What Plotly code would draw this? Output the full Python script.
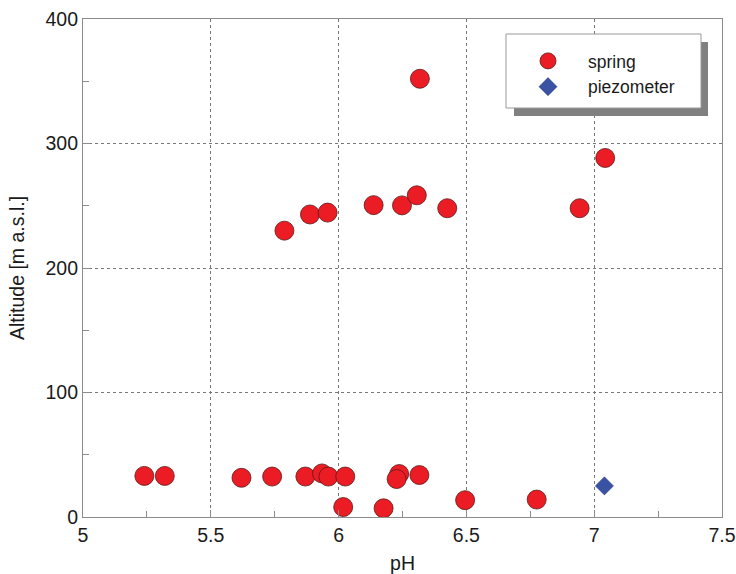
import plotly.graph_objects as go

# spring data (pH, altitude m a.s.l.)
spring_ph = [5.24, 5.32, 5.62, 5.74, 5.87, 5.935, 5.96, 6.026, 6.018, 6.176,
             6.237, 6.227, 6.316, 6.495, 6.775,
             5.788, 5.888, 5.957, 6.137, 6.248, 6.306, 6.318, 6.425, 6.943, 7.043]
spring_alt = [33, 33, 31.5, 32.5, 32.5, 35, 32.5, 32.5, 8, 7,
              34.5, 30.5, 33.7, 13.5, 14,
              230, 243, 244.5, 250.5, 250.3, 258.4, 352, 248, 248, 288.4]

# piezometer data
piezo_ph = [7.04]
piezo_alt = [25]

x_ticks = [5, 5.5, 6, 6.5, 7, 7.5]
y_ticks = [0, 100, 200, 300, 400]

FONT = "Liberation Sans, Arial, sans-serif"
FS = 19.5

fig = go.Figure()
fig.add_trace(go.Scatter(
    x=spring_ph, y=spring_alt, mode="markers", name="spring",
    marker=dict(symbol="circle", size=19, color="#ec1c24",
                line=dict(color="#5a1a1a", width=0.8)),
))
fig.add_trace(go.Scatter(
    x=piezo_ph, y=piezo_alt, mode="markers", name="piezometer",
    marker=dict(symbol="diamond", size=14, color="#3a52a3",
                line=dict(color="#2a3a80", width=0.5)),
))

# legend box with shadow
fig.add_shape(type="rect", xref="paper", yref="paper",
              x0=(514 - 83) / 639, x1=(708 - 83) / 639,
              y0=(517 - 116) / 498, y1=(517 - 42) / 498,
              fillcolor="#808080", line=dict(width=0), layer="above")
fig.add_shape(type="rect", xref="paper", yref="paper",
              x0=(506 - 83) / 639, x1=(701 - 83) / 639,
              y0=(517 - 108) / 498, y1=(517 - 34) / 498,
              fillcolor="white", line=dict(color="#999999", width=1), layer="above")

axis_common = dict(
    showline=True, linecolor="#8c8c8c", linewidth=1.2, mirror=True,
    showgrid=True, gridcolor="#777777", griddash="dot", gridwidth=1,
    zeroline=False, ticks="inside", ticklen=7, tickcolor="#8c8c8c",
    tickfont=dict(family=FONT, size=FS, color="#1a1a1a"),
    automargin=False,
    minor=dict(ticks="inside", ticklen=6, tickcolor="#8c8c8c", showgrid=False),
)

fig.update_layout(
    width=736, height=574,
    margin=dict(l=83, r=14, t=19, b=57),
    paper_bgcolor="white", plot_bgcolor="white",
    font=dict(family=FONT, size=FS, color="#1a1a1a"),
    xaxis=dict(range=[5, 7.5], tickvals=x_ticks, ticktext=[str(v) for v in x_ticks],
               title=dict(text="pH", font=dict(size=FS)),
               **axis_common),
    yaxis=dict(range=[0, 400], tickvals=y_ticks, ticktext=[str(v) for v in y_ticks],
               title=dict(text="Altitude [m a.s.l.]", font=dict(size=FS)),
               **axis_common),
    showlegend=True,
    legend=dict(x=(508 - 83) / 639, y=(517 - 43) / 498, xanchor="left", yanchor="top",
                bgcolor="rgba(0,0,0,0)", borderwidth=0,
                font=dict(family=FONT, size=17.5, color="#1a1a1a"),
                itemwidth=70, tracegroupgap=0),
)
fig.update_xaxes(minor=dict(tickvals=[5.25, 5.75, 6.25, 6.75, 7.25]))
fig.update_yaxes(minor=dict(tickvals=[50, 150, 250, 350]))

fig.write_html("out.html", config={"displayModeBar": False},
               post_script="document.body.style.margin='0';document.body.style.padding='0';")
